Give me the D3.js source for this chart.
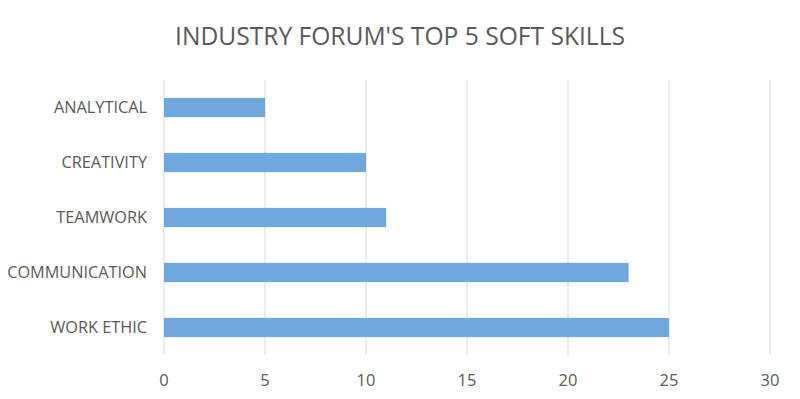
<!DOCTYPE html>
<html>
<head>
<meta charset="utf-8">
<script src="https://cdn.jsdelivr.net/npm/d3@7"></script>
<style>
  body { margin: 0; background: #fff; }
  text { font-family: "Open Sans", sans-serif; fill: #595959; }
</style>
</head>
<body>
<svg id="chart"></svg>
<script>
var skills = ["ANALYTICAL", "CREATIVITY", "TEAMWORK", "COMMUNICATION", "WORK ETHIC"];
var counts = [5, 10, 11, 23, 25];
var ticks = [0, 5, 10, 15, 20, 25, 30];
var title = "INDUSTRY FORUM'S TOP 5 SOFT SKILLS";

var width = 800, height = 399;
var svg = d3.select("#chart").attr("width", width).attr("height", height);

var x = d3.scaleLinear().domain([0, 30]).range([164, 770]);
var y = d3.scaleBand().domain(skills).range([80, 355]).paddingInner(0.65).paddingOuter(0.325);

// gridlines
svg.append("g").selectAll("line")
  .data(ticks)
  .enter().append("line")
  .attr("x1", function(d) { return x(d); })
  .attr("x2", function(d) { return x(d); })
  .attr("y1", 80).attr("y2", 355)
  .attr("stroke", "#d9d9d9").attr("stroke-width", 1);

svg.append("g").selectAll("rect")
  .data(skills)
  .enter().append("rect")
  .attr("x", x(0))
  .attr("y", function(d) { return y(d); })
  .attr("width", function(d, i) { return x(counts[i]) - x(0); })
  .attr("height", y.bandwidth())
  .attr("fill", "#6fa8dc");

// category labels
svg.append("g").selectAll("text")
  .data(skills)
  .enter().append("text")
  .attr("x", 147)
  .attr("y", function(d) { return y(d) + y.bandwidth() / 2; })
  .attr("dy", "0.35em")
  .attr("text-anchor", "end")
  .style("font-size", "16.3px")
  .text(function(d) { return d; });

// x tick labels
svg.append("g").selectAll("text")
  .data(ticks)
  .enter().append("text")
  .attr("x", function(d) { return x(d); })
  .attr("y", 380)
  .attr("dy", "0.35em")
  .attr("text-anchor", "middle")
  .style("font-size", "16.5px")
  .text(function(d) { return d; });

svg.append("text")
  .attr("x", 400).attr("y", 36)
  .attr("dy", "0.35em")
  .attr("text-anchor", "middle")
  .style("font-size", "24.6px")
  .text(title);
</script>
</body>
</html>
